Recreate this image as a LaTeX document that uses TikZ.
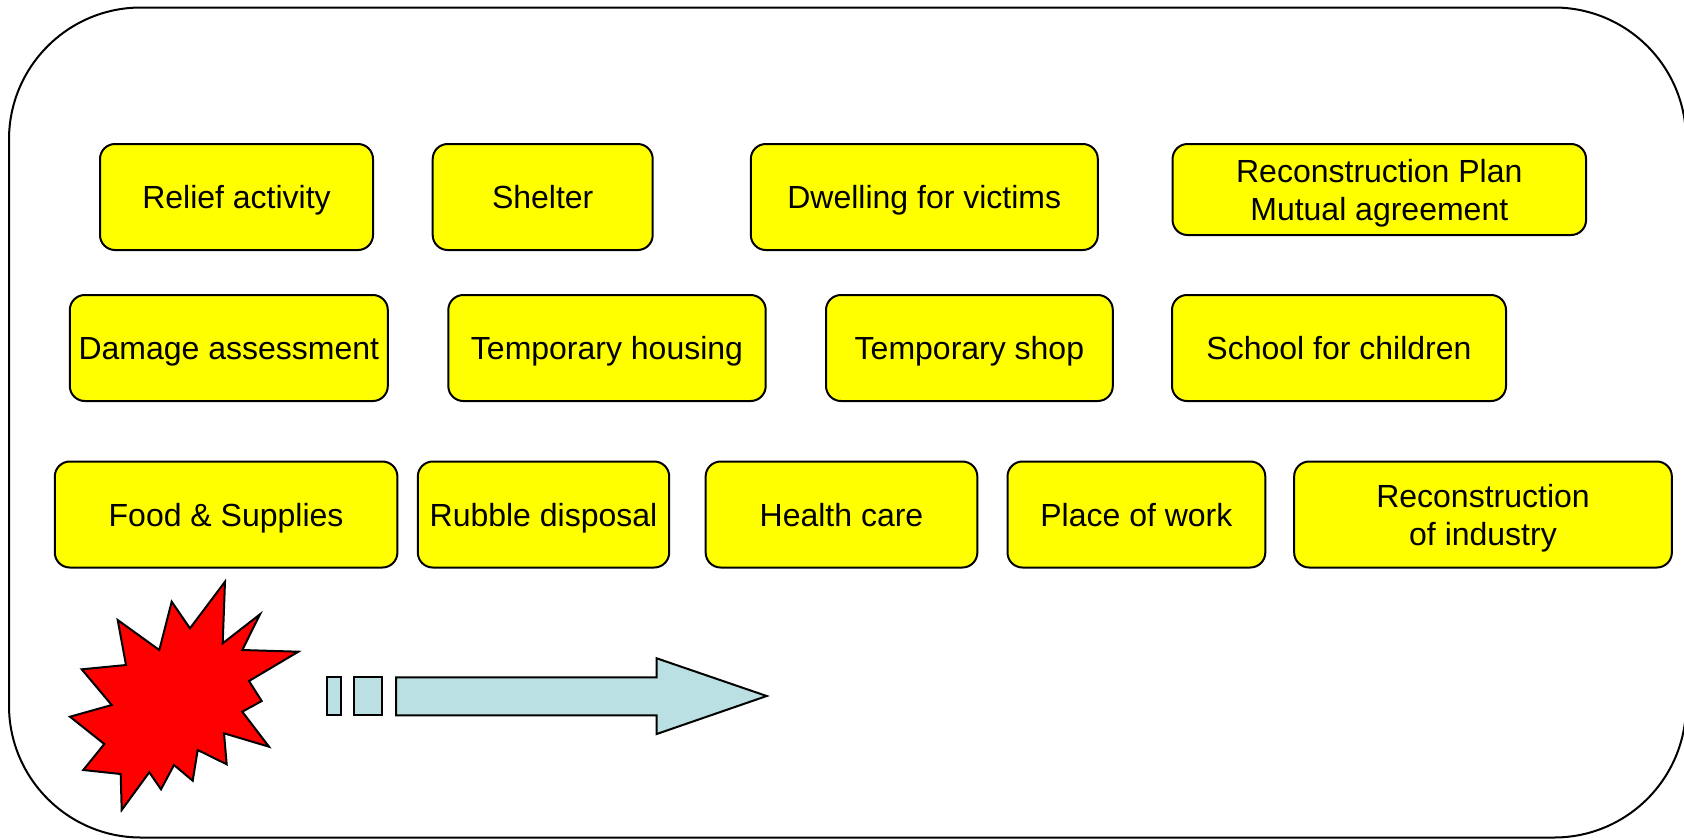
\documentclass[tikz,border=0pt]{standalone}
\usepackage{fontspec}
\setmainfont{Liberation Sans}
\definecolor{boxyellow}{RGB}{255,255,0}
\definecolor{arrowblue}{RGB}{187,224,227}
\definecolor{burstred}{RGB}{255,0,0}
\tikzset{
  itembox/.style={draw=black, fill=boxyellow, rounded corners=15pt, line width=2pt,
    align=center, inner sep=0pt, font=\fontsize{32}{38}\selectfont, minimum height=106pt,
    text height=23pt, text depth=0pt},
  twoline/.style={text height=61pt, text depth=0pt},
  outline/.style={draw=black, line width=2pt}
}
\begin{document}
\begin{tikzpicture}[x=1pt,y=-1pt]
\useasboundingbox (0,0) rectangle (1684,839);
\clip (0,0) rectangle (1684,839);
\fill[white] (0,0) rectangle (1684,839);
% outer frame
\draw[outline, rounded corners=132pt] (9,7.5) rectangle (1686,837.5);

% row 1
\node[itembox, minimum width=273pt] (relief) at (236.5,197) {Relief activity};
\node[itembox, minimum width=220pt] (shelter) at (542.7,197) {Shelter};
\node[itembox, minimum width=347pt] (dwelling) at (924.3,197) {Dwelling for victims};
\node[itembox, twoline, minimum width=413.5pt, minimum height=91pt] (plan) at (1379.3,189.5) {Reconstruction Plan\\Mutual agreement};
% row 2
\node[itembox, minimum width=318pt] (damage) at (228.8,348) {Damage assessment};
\node[itembox, minimum width=317.4pt] (housing) at (607,348) {Temporary housing};
\node[itembox, minimum width=286.8pt] (shop) at (969.4,348) {Temporary shop};
\node[itembox, minimum width=334pt] (school) at (1339,348) {School for children};
% row 3
\node[itembox, minimum width=342.6pt] (food) at (226.1,514.5) {Food \& Supplies};
\node[itembox, minimum width=251.4pt] (rubble) at (543.5,514.5) {Rubble disposal};
\node[itembox, minimum width=271.7pt] (health) at (841.5,514.5) {Health care};
\node[itembox, minimum width=257.8pt] (work) at (1136.4,514.5) {Place of work};
\node[itembox, twoline, minimum width=377.7pt] (industry) at (1483,514.5) {Reconstruction\\of industry};

% explosion
\draw[outline, fill=burstred, line join=miter]
  (225,581.7) -- (222.7,643.3) -- (260,614.3) -- (242.3,650) -- (298.3,651.7)
  -- (249,681) -- (261.7,701) -- (242.3,711.7) -- (269,746.7) -- (224,733.3)
  -- (226.7,764.3) -- (197.7,750) -- (192.7,780.7) -- (174,765) -- (161,789.3)
  -- (149.3,772.3) -- (121.7,810) -- (120.7,774) -- (83.3,770) -- (104.3,744)
  -- (70,716.7) -- (111.7,705) -- (81.7,669.3) -- (126,665) -- (117.7,620)
  -- (159.3,650) -- (171.7,601.7) -- (190,628.3) -- cycle;

% arrow
\draw[outline, fill=arrowblue] (326.7,677.3) rectangle (341.3,715.3);
\draw[outline, fill=arrowblue] (354.3,677.3) rectangle (382,715.3);
\draw[outline, fill=arrowblue, line join=miter]
  (396,677.3) -- (656.7,677.3) -- (656.7,658.3) -- (766.7,696) -- (656.7,734)
  -- (656.7,715.3) -- (396,715.3) -- cycle;
\end{tikzpicture}
\end{document}
